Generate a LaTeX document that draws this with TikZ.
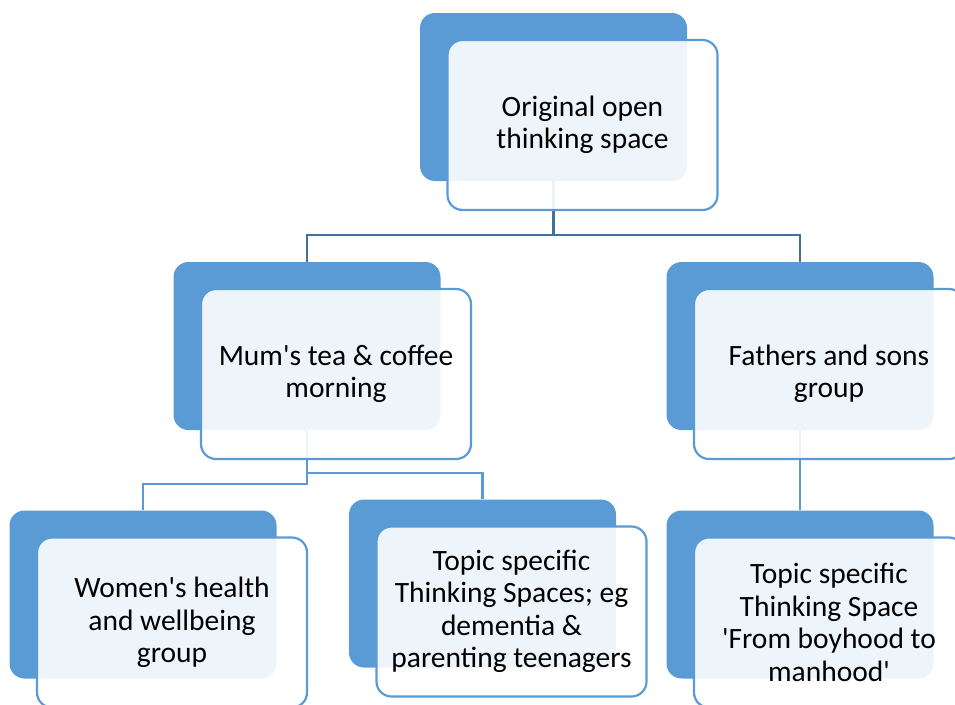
\documentclass[tikz,border=0pt]{standalone}
\usepackage{fontspec}
\setmainfont{Carlito}
\definecolor{accent}{HTML}{5B9BD5}
\definecolor{darkacc}{HTML}{41719C}
\newcommand{\aq}{\textquotesingle}
\begin{document}
\begin{tikzpicture}[x=1pt,y=-1pt,
  back/.style={draw=none, fill=accent, rounded corners=15pt, minimum width=267pt, minimum height=168pt, inner sep=0pt},
  front/.style={draw=accent, line width=2.2pt, fill=white, fill opacity=0.9, text opacity=1, rounded corners=15pt, minimum width=270pt, minimum height=170pt, inner sep=0pt, align=center, font=\fontsize{29.5}{32.5}\selectfont},
  conn/.style={draw=accent, line width=2.4pt},
  conntop/.style={draw=darkacc, line width=2.4pt}]
\useasboundingbox (0,0) rectangle (955,704);
\clip (0,0) rectangle (955,704);
% back boxes
\node[back] (b1) at (553.5,97) {};
\node[back] (b2) at (307,346) {};
\node[back] (b3) at (800,346) {};
\node[back] (b4) at (143,594.5) {};
\node[back] (b5) at (482.5,583.5) {};
\node[back] (b6) at (800,594.5) {};
% connectors
\coordinate (j1) at (553.5,235);
\coordinate (j2) at (307,473);
\coordinate (j3) at (307,484);
\draw[conntop] (b1.south) -- (j1) -| (b2.north);
\draw[conntop] (j1) -| (b3.north);
\draw[conn] (b2.south) -- (j3) -| (b4.north);
\draw[conn] (j2) -| (b5.north);
\draw[conn] (b3.south) -- (b6.north);
% front boxes
\node[front] (f1) at (582.5,125) {Original open\\thinking space};
\node[front] (f2) at (336,374) {Mum\aq s tea \& coffee\\morning};
\node[front] (f3) at (829,374) {Fathers and sons\\group};
\node[front] (f4) at (172,622.5) {Women\aq s health\\and wellbeing\\group};
\node[front] (f5) at (511.5,611.5) {Topic specific\\Thinking Spaces; eg\\dementia \&\\parenting teenagers};
\node[front] (f6) at (829,622.5) {Topic specific\\Thinking Space\\\aq From boyhood to\\manhood\aq};
\end{tikzpicture}
\end{document}
